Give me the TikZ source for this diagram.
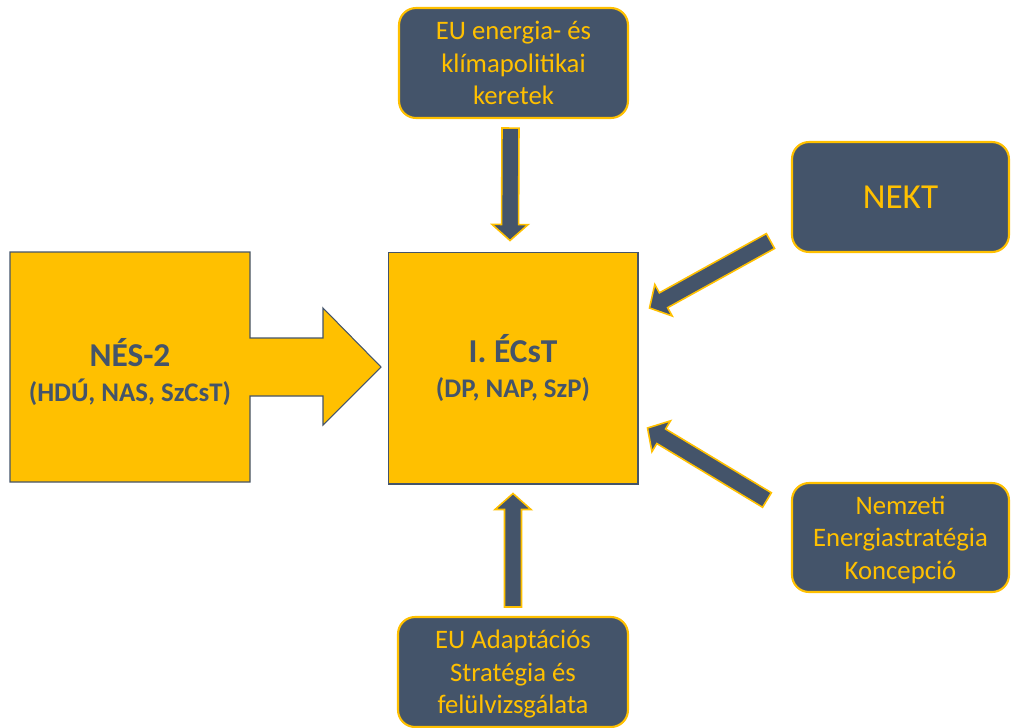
\documentclass[tikz,border=0pt]{standalone}
\usepackage{fontspec}
\setmainfont{Carlito}
\usetikzlibrary{calc}
\definecolor{slate}{HTML}{44546A}
\definecolor{amber}{HTML}{FFC000}
\tikzstyle{source}=[draw=amber, fill=slate, line width=1.2pt, rounded corners=0.34cm, text=amber, align=center, text depth=0pt, font=\fontsize{15.2}{18.6}\selectfont]
\tikzstyle{target}=[draw=slate, fill=amber, line width=0.6pt, text=slate, align=center, font=\fontsize{15.3}{20}\selectfont\bfseries]
\tikzstyle{block arrow}=[draw=amber, fill=slate, line width=0.9pt, line join=miter]
% block arrow from #1 to #2 (tip at #2)
\newcommand{\blockarrow}[2]{%
  \path (#1) coordinate (ba-s) (#2) coordinate (ba-e);
  \path ($(ba-e)!0.32cm!(ba-s)$) coordinate (ba-h);
  \draw[block arrow] ($(ba-s)!0.17cm!90:(ba-e)$) -- ($(ba-h)!0.17cm!-90:(ba-s)$)
    -- ($(ba-h)!0.36cm!-90:(ba-s)$) -- (ba-e) -- ($(ba-h)!0.36cm!90:(ba-s)$)
    -- ($(ba-h)!0.17cm!90:(ba-s)$) -- ($(ba-s)!0.17cm!-90:(ba-e)$) -- cycle;
}
\begin{document}
\begin{tikzpicture}[x=0.02cm, y=-0.02cm]
      \useasboundingbox (0, 0) rectangle (1011, 727);

      \node[target, minimum width=5cm, minimum height=4.64cm] (ecst) at (513, 368)
        {{\fontsize{19}{20}\selectfont I. ÉCsT}\\(DP, NAP, SzP)};

      \node[source, minimum width=4.58cm, minimum height=2.2cm] (eu) at (513.5, 63)
        {EU energia- és\\klímapolitikai\\keretek};
      \node[source, minimum width=4.34cm, minimum height=2.2cm,
        font=\fontsize{20}{24}\selectfont] (nekt) at (900.5, 197) {NEKT};
      \node[source, minimum width=4.34cm, minimum height=2.18cm] (nesk) at (900.5, 537.5)
        {Nemzeti\\Energiastratégia\\Koncepció};
      \node[source, minimum width=4.6cm, minimum height=2.2cm] (adapt) at (513, 672)
        {EU Adaptációs\\Stratégia és\\felülvizsgálata};

      % NES-2 box with its arrow
      \draw[fill=amber, draw=slate, line width=0.6pt] (10, 252) -- (250, 252)
        -- (250, 338) -- (323, 338) -- (323, 308) -- (381, 367) -- (323, 425)
        -- (323, 396) -- (250, 396) -- (250, 482) -- (10, 482) -- cycle;
      \node[target, draw=none, fill=none] (nes) at (130, 372)
        {{\fontsize{19}{20}\selectfont NÉS-2}\\(HDÚ, NAS, SzCsT)};

      \blockarrow{$(eu.south)+(-3, 9)$}{$(ecst.north)+(-3, -11)$}
      \blockarrow{$(adapt.north)+(0, -9)$}{$(ecst.south)+(0, 9)$}
      \blockarrow{$(nekt.south west)+(-20.5, -12)$}{$(ecst.east)+(11, -60)$}
      \blockarrow{$(nesk.west)+(-24, -37.5)$}{$(ecst.east)+(9, 60)$}
    \end{tikzpicture}
\end{document}
